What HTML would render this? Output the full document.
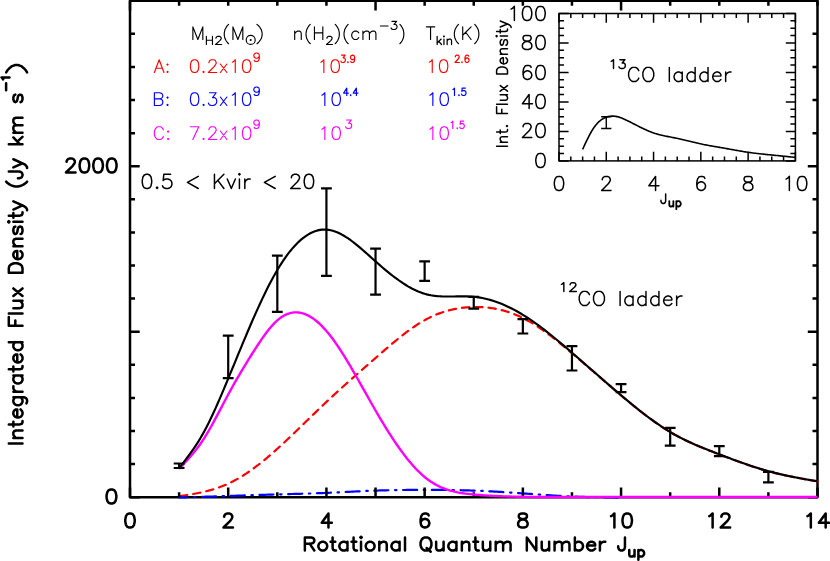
<!DOCTYPE html>
<html><head><meta charset="utf-8"><title>CO ladder</title>
<style>
html,body{margin:0;padding:0;background:#fff;}
body{width:830px;height:561px;overflow:hidden;font-family:"Liberation Sans",sans-serif;}
svg{display:block}
.t{fill:none;stroke-linecap:round;stroke-linejoin:round}
.ax{fill:none;stroke:#000;stroke-linecap:butt}
.hid{fill:transparent;stroke:none;font-family:"Liberation Sans",sans-serif}
</style></head><body>
<svg width="830" height="561" viewBox="0 0 830 561">
<rect class="ax" stroke-linejoin="round" x="130" y="0.75" width="687.5" height="496.45" stroke-width="2.5"/>
<g fill="none" stroke-linejoin="round">
<path d="M179.11 496.3 180.39 496.1 181.67 495.9 182.95 495.7 184.22 495.5 185.5 495.3 186.78 495.09 188.06 494.88 189.34 494.67 190.62 494.45 191.9 494.22 193.18 494 194.46 493.76 195.74 493.52 197.02 493.28 198.3 493.02 199.58 492.76 200.86 492.49 202.14 492.21 203.41 491.92 204.69 491.62 205.97 491.31 207.25 490.99 208.53 490.66 209.81 490.32 211.09 489.96 212.37 489.59 213.65 489.2 214.93 488.81 216.21 488.39 217.49 487.96 218.77 487.52 220.05 487.06 221.33 486.58 222.6 486.09 223.88 485.58 225.16 485.04 226.44 484.49 227.72 483.92 229 483.33 230.28 482.72 231.56 482.1 232.84 481.45 234.12 480.78 235.4 480.09 236.68 479.38 237.96 478.66 239.24 477.92 240.52 477.15 241.8 476.38 243.07 475.58 244.35 474.76 245.63 473.93 246.91 473.09 248.19 472.22 249.47 471.34 250.75 470.45 252.03 469.53 253.31 468.61 254.59 467.66 255.87 466.71 257.15 465.73 258.43 464.75 259.71 463.75 260.99 462.73 262.26 461.71 263.54 460.67 264.82 459.62 266.1 458.56 267.38 457.48 268.66 456.4 269.94 455.3 271.22 454.2 272.5 453.08 273.78 451.96 275.06 450.83 276.34 449.68 277.62 448.53 278.9 447.38 280.18 446.21 281.45 445.04 282.73 443.86 284.01 442.67 285.29 441.48 286.57 440.28 287.85 439.07 289.13 437.86 290.41 436.65 291.69 435.43 292.97 434.21 294.25 432.98 295.53 431.75 296.81 430.52 298.09 429.28 299.37 428.04 300.64 426.8 301.92 425.56 303.2 424.32 304.48 423.07 305.76 421.83 307.04 420.58 308.32 419.34 309.6 418.09 310.88 416.85 312.16 415.6 313.44 414.36 314.72 413.12 316 411.88 317.28 410.64 318.56 409.41 319.84 408.18 321.11 406.95 322.39 405.73 323.67 404.51 324.95 403.3 326.23 402.09 327.51 400.88 328.79 399.68 330.07 398.49 331.35 397.3 332.63 396.11 333.91 394.93 335.19 393.75 336.47 392.58 337.75 391.41 339.03 390.25 340.3 389.08 341.58 387.93 342.86 386.77 344.14 385.62 345.42 384.47 346.7 383.33 347.98 382.19 349.26 381.05 350.54 379.91 351.82 378.78 353.1 377.65 354.38 376.52 355.66 375.39 356.94 374.26 358.22 373.14 359.49 372.01 360.77 370.89 362.05 369.77 363.33 368.65 364.61 367.53 365.89 366.42 367.17 365.3 368.45 364.18 369.73 363.07 371.01 361.95 372.29 360.83 373.57 359.72 374.85 358.6 376.13 357.48 377.41 356.37 378.68 355.25 379.96 354.13 381.24 353.02 382.52 351.91 383.8 350.8 385.08 349.69 386.36 348.59 387.64 347.49 388.92 346.4 390.2 345.31 391.48 344.23 392.76 343.15 394.04 342.09 395.32 341.03 396.6 339.98 397.88 338.93 399.15 337.9 400.43 336.88 401.71 335.87 402.99 334.87 404.27 333.88 405.55 332.9 406.83 331.94 408.11 330.99 409.39 330.05 410.67 329.13 411.95 328.23 413.23 327.34 414.51 326.47 415.79 325.61 417.07 324.77 418.34 323.95 419.62 323.15 420.9 322.37 422.18 321.61 423.46 320.87 424.74 320.15 426.02 319.45 427.3 318.77 428.58 318.11 429.86 317.48 431.14 316.86 432.42 316.27 433.7 315.7 434.98 315.15 436.26 314.61 437.53 314.1 438.81 313.61 440.09 313.13 441.37 312.68 442.65 312.24 443.93 311.83 445.21 311.43 446.49 311.05 447.77 310.69 449.05 310.35 450.33 310.02 451.61 309.71 452.89 309.42 454.17 309.15 455.45 308.9 456.72 308.66 458 308.44 459.28 308.23 460.56 308.04 461.84 307.87 463.12 307.71 464.4 307.57 465.68 307.45 466.96 307.34 468.24 307.24 469.52 307.16 470.8 307.1 472.08 307.04 473.36 307.01 474.64 306.99 475.92 306.98 477.19 306.98 478.47 307.01 479.75 307.04 481.03 307.09 482.31 307.16 483.59 307.24 484.87 307.34 486.15 307.45 487.43 307.58 488.71 307.72 489.99 307.88 491.27 308.05 492.55 308.25 493.83 308.46 495.11 308.68 496.38 308.92 497.66 309.18 498.94 309.46 500.22 309.75 501.5 310.06 502.78 310.39 504.06 310.74 505.34 311.11 506.62 311.49 507.9 311.89 509.18 312.31 510.46 312.75 511.74 313.21 513.02 313.68 514.3 314.18 515.57 314.69 516.85 315.23 518.13 315.78 519.41 316.36 520.69 316.95 521.97 317.56 523.25 318.2 524.53 318.85 525.81 319.53 527.09 320.22 528.37 320.93 529.65 321.66 530.93 322.41 532.21 323.18 533.49 323.96 534.76 324.76 536.04 325.58 537.32 326.41 538.6 327.26 539.88 328.12 541.16 329 542.44 329.89 543.72 330.79 545 331.71 546.28 332.64 547.56 333.58 548.84 334.53 550.12 335.49 551.4 336.47 552.68 337.45 553.96 338.45 555.23 339.45 556.51 340.46 557.79 341.48 559.07 342.51 560.35 343.54 561.63 344.59 562.91 345.63 564.19 346.69 565.47 347.75 566.75 348.81 568.03 349.88 569.31 350.96 570.59 352.04 571.87 353.12 573.15 354.2 574.42 355.29 575.7 356.38 576.98 357.47 578.26 358.56 579.54 359.65 580.82 360.75 582.1 361.85 583.38 362.95 584.66 364.05 585.94 365.16 587.22 366.26 588.5 367.37 589.78 368.47 591.06 369.58 592.34 370.69 593.61 371.79 594.89 372.9 596.17 374.01 597.45 375.12 598.73 376.23 600.01 377.33 601.29 378.44 602.57 379.55 603.85 380.65 605.13 381.76 606.41 382.86 607.69 383.97 608.97 385.07 610.25 386.17 611.53 387.27 612.8 388.36 614.08 389.46 615.36 390.55 616.64 391.64 617.92 392.73 619.2 393.82 620.48 394.9 621.76 395.98 623.04 397.06 624.32 398.13 625.6 399.2 626.88 400.27 628.16 401.34 629.44 402.39 630.72 403.45 632 404.5 633.27 405.54 634.55 406.58 635.83 407.61 637.11 408.64 638.39 409.66 639.67 410.67 640.95 411.68 642.23 412.67 643.51 413.67 644.79 414.65 646.07 415.62 647.35 416.59 648.63 417.55 649.91 418.5 651.19 419.44 652.46 420.37 653.74 421.29 655.02 422.2 656.3 423.1 657.58 423.98 658.86 424.86 660.14 425.73 661.42 426.58 662.7 427.43 663.98 428.26 665.26 429.07 666.54 429.88 667.82 430.67 669.1 431.45 670.38 432.22 671.65 432.97 672.93 433.71 674.21 434.43 675.49 435.14 676.77 435.84 678.05 436.53 679.33 437.21 680.61 437.87 681.89 438.53 683.17 439.17 684.45 439.8 685.73 440.42 687.01 441.04 688.29 441.64 689.57 442.24 690.84 442.82 692.12 443.4 693.4 443.97 694.68 444.54 695.96 445.09 697.24 445.64 698.52 446.18 699.8 446.72 701.08 447.25 702.36 447.78 703.64 448.3 704.92 448.81 706.2 449.33 707.48 449.83 708.76 450.34 710.04 450.84 711.31 451.34 712.59 451.83 713.87 452.33 715.15 452.82 716.43 453.31 717.71 453.8 718.99 454.29 720.27 454.78 721.55 455.26 722.83 455.75 724.11 456.24 725.39 456.72 726.67 457.21 727.95 457.69 729.23 458.17 730.5 458.65 731.78 459.13 733.06 459.6 734.34 460.08 735.62 460.55 736.9 461.02 738.18 461.48 739.46 461.95 740.74 462.41 742.02 462.86 743.3 463.32 744.58 463.77 745.86 464.22 747.14 464.66 748.42 465.1 749.69 465.53 750.97 465.96 752.25 466.39 753.53 466.81 754.81 467.23 756.09 467.64 757.37 468.04 758.65 468.44 759.93 468.84 761.21 469.23 762.49 469.61 763.77 469.99 765.05 470.36 766.33 470.72 767.61 471.08 768.88 471.43 770.16 471.78 771.44 472.12 772.72 472.45 774 472.77 775.28 473.09 776.56 473.41 777.84 473.72 779.12 474.02 780.4 474.31 781.68 474.61 782.96 474.89 784.24 475.17 785.52 475.45 786.8 475.72 788.08 475.99 789.35 476.26 790.63 476.52 791.91 476.78 793.19 477.03 794.47 477.28 795.75 477.53 797.03 477.77 798.31 478.01 799.59 478.25 800.87 478.48 802.15 478.72 803.43 478.95 804.71 479.18 805.99 479.4 807.27 479.63 808.54 479.85 809.82 480.08 811.1 480.3 812.38 480.52 813.66 480.74 814.94 480.96 816.22 481.18 817.5 481.4" stroke="#f00" stroke-width="2.2" stroke-linecap="round" stroke-dasharray="7.3 6" stroke-dashoffset="-1"/>
<path d="M179.11 497.5 180.59 497.46 182.06 497.41 183.54 497.37 185.02 497.33 186.5 497.28 187.98 497.24 189.45 497.2 190.93 497.15 192.41 497.11 193.89 497.06 195.37 497.02 196.84 496.98 198.32 496.93 199.8 496.89 201.28 496.84 202.76 496.8 204.24 496.75 205.71 496.71 207.19 496.66 208.67 496.62 210.15 496.57 211.63 496.53 213.1 496.48 214.58 496.44 216.06 496.39 217.54 496.34 219.02 496.3 220.5 496.25 221.97 496.2 223.45 496.15 224.93 496.11 226.41 496.06 227.89 496.01 229.36 495.96 230.84 495.91 232.32 495.86 233.8 495.81 235.28 495.77 236.75 495.72 238.23 495.67 239.71 495.62 241.19 495.57 242.67 495.52 244.15 495.47 245.62 495.42 247.1 495.37 248.58 495.32 250.06 495.27 251.54 495.22 253.01 495.17 254.49 495.12 255.97 495.07 257.45 495.02 258.93 494.97 260.4 494.92 261.88 494.87 263.36 494.83 264.84 494.78 266.32 494.73 267.8 494.69 269.27 494.64 270.75 494.59 272.23 494.55 273.71 494.51 275.19 494.46 276.66 494.42 278.14 494.38 279.62 494.33 281.1 494.29 282.58 494.25 284.06 494.21 285.53 494.17 287.01 494.13 288.49 494.09 289.97 494.06 291.45 494.02 292.92 493.98 294.4 493.94 295.88 493.9 297.36 493.86 298.84 493.82 300.31 493.78 301.79 493.73 303.27 493.69 304.75 493.65 306.23 493.61 307.71 493.56 309.18 493.52 310.66 493.47 312.14 493.42 313.62 493.38 315.1 493.33 316.57 493.28 318.05 493.22 319.53 493.17 321.01 493.12 322.49 493.06 323.97 493 325.44 492.94 326.92 492.88 328.4 492.82 329.88 492.75 331.36 492.68 332.83 492.61 334.31 492.54 335.79 492.47 337.27 492.4 338.75 492.33 340.22 492.26 341.7 492.18 343.18 492.11 344.66 492.03 346.14 491.96 347.62 491.88 349.09 491.8 350.57 491.73 352.05 491.65 353.53 491.58 355.01 491.5 356.48 491.43 357.96 491.36 359.44 491.29 360.92 491.22 362.4 491.15 363.87 491.08 365.35 491.01 366.83 490.95 368.31 490.88 369.79 490.82 371.27 490.76 372.74 490.7 374.22 490.65 375.7 490.59 377.18 490.54 378.66 490.5 380.13 490.45 381.61 490.41 383.09 490.36 384.57 490.33 386.05 490.29 387.53 490.25 389 490.22 390.48 490.19 391.96 490.16 393.44 490.13 394.92 490.11 396.39 490.09 397.87 490.06 399.35 490.04 400.83 490.03 402.31 490.01 403.78 489.99 405.26 489.98 406.74 489.97 408.22 489.95 409.7 489.94 411.18 489.94 412.65 489.93 414.13 489.92 415.61 489.92 417.09 489.91 418.57 489.91 420.04 489.9 421.52 489.9 423 489.9 424.48 489.9 425.96 489.9 427.43 489.9 428.91 489.9 430.39 489.9 431.87 489.91 433.35 489.91 434.83 489.92 436.3 489.92 437.78 489.93 439.26 489.94 440.74 489.95 442.22 489.96 443.69 489.97 445.17 489.98 446.65 490 448.13 490.02 449.61 490.03 451.09 490.05 452.56 490.07 454.04 490.1 455.52 490.12 457 490.15 458.48 490.18 459.95 490.21 461.43 490.24 462.91 490.28 464.39 490.31 465.87 490.35 467.34 490.39 468.82 490.44 470.3 490.48 471.78 490.53 473.26 490.58 474.74 490.64 476.21 490.69 477.69 490.75 479.17 490.81 480.65 490.87 482.13 490.94 483.6 491.01 485.08 491.08 486.56 491.15 488.04 491.22 489.52 491.3 490.99 491.38 492.47 491.46 493.95 491.54 495.43 491.62 496.91 491.71 498.39 491.79 499.86 491.88 501.34 491.97 502.82 492.06 504.3 492.16 505.78 492.25 507.25 492.34 508.73 492.44 510.21 492.54 511.69 492.63 513.17 492.73 514.65 492.83 516.12 492.93 517.6 493.03 519.08 493.14 520.56 493.24 522.04 493.34 523.51 493.45 524.99 493.55 526.47 493.65 527.95 493.76 529.43 493.86 530.9 493.97 532.38 494.07 533.86 494.18 535.34 494.28 536.82 494.39 538.3 494.49 539.77 494.59 541.25 494.7 542.73 494.8 544.21 494.9 545.69 495 547.16 495.1 548.64 495.19 550.12 495.29 551.6 495.39 553.08 495.48 554.56 495.57 556.03 495.66 557.51 495.75 558.99 495.84 560.47 495.92 561.95 496 563.42 496.08 564.9 496.16 566.38 496.24 567.86 496.31 569.34 496.38 570.81 496.45 572.29 496.51 573.77 496.58 575.25 496.64 576.73 496.69 578.21 496.75 579.68 496.8 581.16 496.85 582.64 496.9 584.12 496.94 585.6 496.99 587.07 497.03 588.55 497.07 590.03 497.1 591.51 497.14 592.99 497.17 594.46 497.2 595.94 497.23 597.42 497.26 598.9 497.29 600.38 497.32 601.86 497.34 603.33 497.37 604.81 497.39 606.29 497.41 607.77 497.43 609.25 497.45 610.72 497.47 612.2 497.49 613.68 497.51 615.16 497.53 616.64 497.55 618.12 497.57 619.59 497.58 621.07 497.6" stroke="#00f" stroke-width="2.2" stroke-linecap="round" stroke-dasharray="14.1 6.6 1.45 6.6" stroke-dashoffset="5.9"/>
</g>
<path class="ax" d="M130 497.2v-9.7M130 0.75v9.7M179.11 497.2v-5M179.11 0.75v5M228.21 497.2v-9.7M228.21 0.75v5M277.32 497.2v-5M277.32 0.75v5M326.43 497.2v-9.7M326.43 0.75v5M375.54 497.2v-9.7M375.54 0.75v9.7M424.64 497.2v-9.7M424.64 0.75v5M473.75 497.2v-5M473.75 0.75v5M522.86 497.2v-9.7M522.86 0.75v5M571.96 497.2v-5M571.96 0.75v5M621.07 497.2v-9.7M621.07 0.75v9.7M670.18 497.2v-5M670.18 0.75v5M719.29 497.2v-9.7M719.29 0.75v5M768.39 497.2v-5M768.39 0.75v5M817.5 497.2v-9.7M817.5 0.75v5M130 497.2h9.7M817.5 497.2h-9.7M130 464.1h5M817.5 464.1h-5M130 431.01h5M817.5 431.01h-5M130 397.91h5M817.5 397.91h-5M130 364.81h5M817.5 364.81h-5M130 331.72h9.7M817.5 331.72h-9.7M130 298.62h5M817.5 298.62h-5M130 265.52h5M817.5 265.52h-5M130 232.43h5M817.5 232.43h-5M130 199.33h5M817.5 199.33h-5M130 166.23h9.7M817.5 166.23h-9.7M130 133.14h5M817.5 133.14h-5M130 100.04h5M817.5 100.04h-5M130 66.94h5M817.5 66.94h-5M130 33.85h5M817.5 33.85h-5M130 0.75h9.7M817.5 0.75h-9.7" stroke-width="2.5"/>
<g fill="none" stroke-linejoin="round">
<path d="M179.11 468.8 181.24 466.56 183.38 464.3 185.51 462.01 187.65 459.68 189.78 457.28 191.92 454.79 194.05 452.22 196.19 449.53 198.32 446.71 200.46 443.75 202.59 440.63 204.73 437.33 206.86 433.86 209 430.24 211.13 426.49 213.27 422.63 215.4 418.69 217.54 414.69 219.67 410.64 221.81 406.58 223.94 402.52 226.08 398.49 228.21 394.5 230.35 390.58 232.48 386.73 234.62 382.94 236.75 379.21 238.89 375.54 241.02 371.92 243.16 368.35 245.3 364.82 247.43 361.34 249.57 357.9 251.7 354.49 253.84 351.12 255.97 347.78 258.11 344.51 260.24 341.3 262.38 338.19 264.51 335.19 266.65 332.31 268.78 329.57 270.92 326.99 273.05 324.6 275.19 322.39 277.32 320.4 279.46 318.63 281.59 317.09 283.73 315.78 285.86 314.68 288 313.79 290.13 313.12 292.27 312.66 294.4 312.41 296.54 312.36 298.67 312.51 300.81 312.85 302.94 313.39 305.08 314.12 307.21 315.04 309.35 316.13 311.48 317.41 313.62 318.86 315.75 320.48 317.89 322.26 320.02 324.21 322.16 326.32 324.29 328.59 326.43 331 328.56 333.56 330.7 336.26 332.83 339.09 334.97 342.05 337.1 345.11 339.24 348.29 341.37 351.56 343.51 354.92 345.64 358.37 347.78 361.88 349.91 365.46 352.05 369.1 354.18 372.79 356.32 376.51 358.45 380.27 360.59 384.05 362.73 387.85 364.86 391.66 367 395.46 369.13 399.26 371.27 403.03 373.4 406.78 375.54 410.5 377.67 414.18 379.81 417.8 381.94 421.38 384.08 424.91 386.21 428.38 388.35 431.79 390.48 435.14 392.62 438.42 394.75 441.62 396.89 444.75 399.02 447.81 401.16 450.78 403.29 453.66 405.43 456.46 407.56 459.16 409.7 461.77 411.83 464.27 413.97 466.68 416.1 468.97 418.24 471.15 420.37 473.22 422.51 475.17 424.64 477 426.78 478.7 428.91 480.29 431.05 481.75 433.18 483.11 435.32 484.36 437.45 485.51 439.59 486.57 441.72 487.53 443.86 488.41 445.99 489.21 448.13 489.93 450.26 490.58 452.4 491.17 454.53 491.69 456.67 492.16 458.8 492.58 460.94 492.95 463.07 493.28 465.21 493.58 467.34 493.84 469.48 494.08 471.61 494.3 473.75 494.5 475.89 494.69 478.02 494.87 480.16 495.04 482.29 495.2 484.43 495.35 486.56 495.49 488.7 495.62 490.83 495.75 492.97 495.86 495.1 495.97 497.24 496.07 499.37 496.16 501.51 496.25 503.64 496.33 505.78 496.4 507.91 496.47 510.05 496.53 512.18 496.59 514.32 496.64 516.45 496.68 518.59 496.73 520.72 496.77 522.86 496.8 524.99 496.83 527.13 496.86 529.26 496.88 531.4 496.91 533.53 496.93 535.67 496.94 537.8 496.96 539.94 496.97 542.07 496.98 544.21 496.99 546.34 497 548.48 497 550.61 497 552.75 497 554.88 497 557.02 497 559.15 497 561.29 497 563.42 497 565.56 497 567.69 497 569.83 497 571.96 497 574.1 497 576.23 497 578.37 497 580.5 496.99 582.64 496.99 584.77 496.99 586.91 496.99 589.05 496.99 591.18 496.99 593.32 496.99 595.45 496.99 597.59 496.99 599.72 496.99 601.86 496.99 603.99 496.99 606.13 497 608.26 497 610.4 497 612.53 497 614.67 497 616.8 497 618.94 497 621.07 497 623.21 497 625.34 497 627.48 497 629.61 497 631.75 497 633.88 497 636.02 497 638.15 497 640.29 497 642.42 497 644.56 497 646.69 497 648.83 497 650.96 497 653.1 497 655.23 497 657.37 497 659.5 497 661.64 497 663.77 497 665.91 497 668.04 497 670.18 497 672.31 497 674.45 497 676.58 497 678.72 497 680.85 497 682.99 497 685.12 497 687.26 497 689.39 497 691.53 497 693.66 497 695.8 497 697.93 497 700.07 497 702.2 497 704.34 497 706.48 497 708.61 497 710.75 497 712.88 497 715.02 497 717.15 497 719.29 497 721.42 497 723.56 497 725.69 497 727.83 497 729.96 497 732.1 497 734.23 497 736.37 497 738.5 497 740.64 497 742.77 497 744.91 497 747.04 497 749.18 497 751.31 497 753.45 497 755.58 497 757.72 497 759.85 497 761.99 497 764.12 497 766.26 497 768.39 497 770.53 497 772.66 497 774.8 497 776.93 497 779.07 497 781.2 497 783.34 497 785.47 497 787.61 497 789.74 497 791.88 497 794.01 497 796.15 497 798.28 497 800.42 497 802.55 497 804.69 497 806.82 497 808.96 497 811.09 497 813.23 497 815.36 497 817.5 497" stroke="#f0f" stroke-width="2.4"/>
<path d="M179.11 468 181.24 465.3 183.38 462.58 185.51 459.83 187.65 457.02 189.78 454.15 191.92 451.18 194.05 448.11 196.19 444.91 198.32 441.58 200.46 438.08 202.59 434.41 204.73 430.54 206.86 426.48 209 422.24 211.13 417.83 213.27 413.28 215.4 408.6 217.54 403.8 219.67 398.89 221.81 393.91 223.94 388.85 226.08 383.74 228.21 378.6 230.35 373.43 232.48 368.25 234.62 363.07 236.75 357.88 238.89 352.71 241.02 347.55 243.16 342.42 245.3 337.32 247.43 332.26 249.57 327.25 251.7 322.29 253.84 317.4 255.97 312.58 258.11 307.84 260.24 303.18 262.38 298.63 264.51 294.17 266.65 289.82 268.78 285.59 270.92 281.49 273.05 277.51 275.19 273.68 277.32 270 279.46 266.47 281.59 263.1 283.73 259.89 285.86 256.83 288 253.94 290.13 251.2 292.27 248.62 294.4 246.2 296.54 243.95 298.67 241.85 300.81 239.92 302.94 238.15 305.08 236.54 307.21 235.1 309.35 233.82 311.48 232.71 313.62 231.76 315.75 230.98 317.89 230.37 320.02 229.92 322.16 229.65 324.29 229.54 326.43 229.6 328.56 229.83 330.7 230.22 332.83 230.77 334.97 231.46 337.1 232.29 339.24 233.24 341.37 234.32 343.51 235.52 345.64 236.81 347.78 238.21 349.91 239.69 352.05 241.25 354.18 242.88 356.32 244.58 358.45 246.34 360.59 248.14 362.73 249.98 364.86 251.85 367 253.75 369.13 255.66 371.27 257.58 373.4 259.49 375.54 261.4 377.67 263.29 379.81 265.16 381.94 267 384.08 268.82 386.21 270.61 388.35 272.36 390.48 274.08 392.62 275.75 394.75 277.39 396.89 278.97 399.02 280.5 401.16 281.98 403.29 283.41 405.43 284.77 407.56 286.07 409.7 287.31 411.83 288.47 413.97 289.56 416.1 290.57 418.24 291.51 420.37 292.36 422.51 293.12 424.64 293.8 426.78 294.38 428.91 294.88 431.05 295.3 433.18 295.64 435.32 295.92 437.45 296.14 439.59 296.3 441.72 296.42 443.86 296.49 445.99 296.53 448.13 296.54 450.26 296.53 452.4 296.5 454.53 296.47 456.67 296.43 458.8 296.39 460.94 296.37 463.07 296.36 465.21 296.38 467.34 296.42 469.48 296.5 471.61 296.63 473.75 296.8 475.89 297.03 478.02 297.31 480.16 297.65 482.29 298.03 484.43 298.48 486.56 298.97 488.7 299.52 490.83 300.12 492.97 300.76 495.1 301.46 497.24 302.21 499.37 303.01 501.51 303.85 503.64 304.74 505.78 305.68 507.91 306.67 510.05 307.7 512.18 308.77 514.32 309.89 516.45 311.05 518.59 312.26 520.72 313.51 522.86 314.8 524.99 316.13 527.13 317.5 529.26 318.91 531.4 320.36 533.53 321.84 535.67 323.36 537.8 324.9 539.94 326.48 542.07 328.09 544.21 329.72 546.34 331.38 548.48 333.06 550.61 334.77 552.75 336.49 554.88 338.24 557.02 340 559.15 341.78 561.29 343.57 563.42 345.38 565.56 347.19 567.69 349.02 569.83 350.86 571.96 352.7 574.1 354.55 576.23 356.4 578.37 358.26 580.5 360.12 582.64 361.98 584.77 363.84 586.91 365.71 589.05 367.57 591.18 369.44 593.32 371.31 595.45 373.18 597.59 375.04 599.72 376.9 601.86 378.76 603.99 380.62 606.13 382.48 608.26 384.33 610.4 386.17 612.53 388.01 614.67 389.84 616.8 391.67 618.94 393.49 621.07 395.3 623.21 397.1 625.34 398.9 627.48 400.68 629.61 402.45 631.75 404.21 633.88 405.95 636.02 407.67 638.15 409.38 640.29 411.07 642.42 412.74 644.56 414.38 646.69 416.01 648.83 417.61 650.96 419.18 653.1 420.73 655.23 422.25 657.37 423.74 659.5 425.2 661.64 426.63 663.77 428.03 665.91 429.39 668.04 430.71 670.18 432 672.31 433.25 674.45 434.46 676.58 435.64 678.72 436.78 680.85 437.89 682.99 438.98 685.12 440.03 687.26 441.05 689.39 442.05 691.53 443.03 693.66 443.98 695.8 444.92 697.93 445.83 700.07 446.73 702.2 447.61 704.34 448.48 706.48 449.34 708.61 450.18 710.75 451.02 712.88 451.84 715.02 452.67 717.15 453.48 719.29 454.3 721.42 455.11 723.56 455.93 725.69 456.74 727.83 457.54 729.96 458.35 732.1 459.14 734.23 459.94 736.37 460.72 738.5 461.5 740.64 462.27 742.77 463.03 744.91 463.79 747.04 464.53 749.18 465.26 751.31 465.98 753.45 466.68 755.58 467.37 757.72 468.05 759.85 468.72 761.99 469.36 764.12 469.99 766.26 470.61 768.39 471.2 770.53 471.78 772.66 472.33 774.8 472.87 776.93 473.4 779.07 473.91 781.2 474.4 783.34 474.88 785.47 475.34 787.61 475.8 789.74 476.24 791.88 476.67 794.01 477.09 796.15 477.5 798.28 477.9 800.42 478.3 802.55 478.69 804.69 479.07 806.82 479.45 808.96 479.83 811.09 480.2 813.23 480.57 815.36 480.93 817.5 481.3" stroke="#000" stroke-width="2.15"/>
</g>
<path class="ax" d="M179.11 463.5V468M173.71 463.5h10.8M173.71 468h10.8M228.21 335.7V378.2M222.81 335.7h10.8M222.81 378.2h10.8M277.32 255.7V311.8M271.92 255.7h10.8M271.92 311.8h10.8M326.43 188.3V275.8M321.03 188.3h10.8M321.03 275.8h10.8M375.54 248.6V294.7M370.14 248.6h10.8M370.14 294.7h10.8M424.64 261.4V280.9M419.24 261.4h10.8M419.24 280.9h10.8M473.75 296.8V308.7M468.35 296.8h10.8M468.35 308.7h10.8M522.86 319.2V333.5M517.46 319.2h10.8M517.46 333.5h10.8M571.96 346.1V370.5M566.56 346.1h10.8M566.56 370.5h10.8M621.07 384.2V392.2M615.67 384.2h10.8M615.67 392.2h10.8M670.18 427.8V445.7M664.78 427.8h10.8M664.78 445.7h10.8M719.29 446.1V456.1M713.89 446.1h10.8M713.89 456.1h10.8M768.39 471.9V482.3M762.99 471.9h10.8M762.99 482.3h10.8" stroke-width="2.2"/>
<rect class="ax" x="559" y="13.5" width="236.4" height="147.4" stroke-width="1.5"/>
<path class="ax" d="M559 160.9v-9.2M559 13.5v9.2M570.82 160.9v-4.5M570.82 13.5v4.5M582.64 160.9v-4.5M582.64 13.5v4.5M594.46 160.9v-4.5M594.46 13.5v4.5M606.28 160.9v-9.2M606.28 13.5v9.2M618.1 160.9v-4.5M618.1 13.5v4.5M629.92 160.9v-4.5M629.92 13.5v4.5M641.74 160.9v-4.5M641.74 13.5v4.5M653.56 160.9v-9.2M653.56 13.5v9.2M665.38 160.9v-4.5M665.38 13.5v4.5M677.2 160.9v-4.5M677.2 13.5v4.5M689.02 160.9v-4.5M689.02 13.5v4.5M700.84 160.9v-9.2M700.84 13.5v9.2M712.66 160.9v-4.5M712.66 13.5v4.5M724.48 160.9v-4.5M724.48 13.5v4.5M736.3 160.9v-4.5M736.3 13.5v4.5M748.12 160.9v-9.2M748.12 13.5v9.2M759.94 160.9v-4.5M759.94 13.5v4.5M771.76 160.9v-4.5M771.76 13.5v4.5M783.58 160.9v-4.5M783.58 13.5v4.5M795.4 160.9v-9.2M795.4 13.5v9.2M559 160.9h9.6M795.4 160.9h-9.6M559 153.53h5M795.4 153.53h-5M559 146.16h5M795.4 146.16h-5M559 138.79h5M795.4 138.79h-5M559 131.42h9.6M795.4 131.42h-9.6M559 124.05h5M795.4 124.05h-5M559 116.68h5M795.4 116.68h-5M559 109.31h5M795.4 109.31h-5M559 101.94h9.6M795.4 101.94h-9.6M559 94.57h5M795.4 94.57h-5M559 87.2h5M795.4 87.2h-5M559 79.83h5M795.4 79.83h-5M559 72.46h9.6M795.4 72.46h-9.6M559 65.09h5M795.4 65.09h-5M559 57.72h5M795.4 57.72h-5M559 50.35h5M795.4 50.35h-5M559 42.98h9.6M795.4 42.98h-9.6M559 35.61h5M795.4 35.61h-5M559 28.24h5M795.4 28.24h-5M559 20.87h5M795.4 20.87h-5M559 13.5h9.6M795.4 13.5h-9.6" stroke-width="1.5"/>
<path fill="none" stroke="#000" stroke-width="1.6" d="M582.64 149.3 583.71 146.99 584.78 144.7 585.85 142.43 586.92 140.21 587.99 138.04 589.05 135.93 590.12 133.91 591.19 131.99 592.26 130.17 593.33 128.48 594.4 126.92 595.47 125.49 596.54 124.19 597.61 123.01 598.68 121.95 599.75 121 600.82 120.15 601.88 119.4 602.95 118.74 604.02 118.16 605.09 117.67 606.16 117.24 607.23 116.89 608.3 116.6 609.37 116.37 610.44 116.22 611.51 116.12 612.58 116.1 613.65 116.13 614.71 116.23 615.78 116.38 616.85 116.59 617.92 116.84 618.99 117.14 620.06 117.48 621.13 117.86 622.2 118.27 623.27 118.71 624.34 119.18 625.41 119.67 626.47 120.18 627.54 120.7 628.61 121.24 629.68 121.78 630.75 122.33 631.82 122.87 632.89 123.42 633.96 123.98 635.03 124.52 636.1 125.07 637.17 125.62 638.24 126.16 639.3 126.7 640.37 127.23 641.44 127.75 642.51 128.27 643.58 128.77 644.65 129.27 645.72 129.76 646.79 130.23 647.86 130.69 648.93 131.14 650 131.58 651.07 131.99 652.13 132.39 653.2 132.78 654.27 133.14 655.34 133.49 656.41 133.81 657.48 134.13 658.55 134.42 659.62 134.71 660.69 134.98 661.76 135.24 662.83 135.49 663.9 135.73 664.96 135.96 666.03 136.18 667.1 136.4 668.17 136.62 669.24 136.83 670.31 137.03 671.38 137.24 672.45 137.45 673.52 137.66 674.59 137.87 675.66 138.08 676.72 138.3 677.79 138.53 678.86 138.76 679.93 138.99 681 139.23 682.07 139.48 683.14 139.73 684.21 139.98 685.28 140.23 686.35 140.49 687.42 140.75 688.49 141.01 689.55 141.27 690.62 141.52 691.69 141.78 692.76 142.04 693.83 142.3 694.9 142.55 695.97 142.8 697.04 143.05 698.11 143.3 699.18 143.54 700.25 143.77 701.32 144 702.38 144.23 703.45 144.44 704.52 144.66 705.59 144.87 706.66 145.07 707.73 145.27 708.8 145.47 709.87 145.67 710.94 145.86 712.01 146.05 713.08 146.24 714.14 146.42 715.21 146.61 716.28 146.79 717.35 146.97 718.42 147.15 719.49 147.34 720.56 147.52 721.63 147.7 722.7 147.89 723.77 148.07 724.84 148.26 725.91 148.45 726.97 148.64 728.04 148.84 729.11 149.03 730.18 149.23 731.25 149.42 732.32 149.62 733.39 149.81 734.46 150 735.53 150.2 736.6 150.39 737.67 150.58 738.74 150.77 739.8 150.96 740.87 151.14 741.94 151.32 743.01 151.5 744.08 151.67 745.15 151.85 746.22 152.01 747.29 152.18 748.36 152.33 749.43 152.49 750.5 152.64 751.57 152.78 752.63 152.92 753.7 153.06 754.77 153.19 755.84 153.32 756.91 153.45 757.98 153.57 759.05 153.69 760.12 153.81 761.19 153.93 762.26 154.04 763.33 154.15 764.39 154.26 765.46 154.37 766.53 154.48 767.6 154.59 768.67 154.69 769.74 154.8 770.81 154.91 771.88 155.01 772.95 155.12 774.02 155.23 775.09 155.33 776.16 155.44 777.22 155.55 778.29 155.65 779.36 155.76 780.43 155.87 781.5 155.98 782.57 156.09 783.64 156.2 784.71 156.31 785.78 156.41 786.85 156.52 787.92 156.63 788.99 156.74 790.05 156.85 791.12 156.96 792.19 157.07 793.26 157.18 794.33 157.29 795.4 157.4"/>
<path class="ax" stroke-width="1.4" d="M606.28 116.8V128.5M601.18 116.8h10.2M601.18 128.5h10.2"/>
<g class="t">
<path d="M125.28 519.5 125.96 516.17 127.3 514.17 129.33 513.5 130.67 513.5 132.7 514.17 134.04 516.17 134.72 519.5 134.72 521.5 134.04 524.83 132.7 526.83 130.67 527.5 129.33 527.5 127.3 526.83 125.96 524.83 125.28 521.5 125.28 519.5" stroke="#000" stroke-width="2.5"/>
<path d="M224.17 516.83 224.17 516.17 224.84 514.83 225.52 514.17 226.87 513.5 229.56 513.5 230.91 514.17 231.58 514.83 232.26 516.17 232.26 517.5 231.58 518.83 230.24 520.83 223.5 527.5 232.93 527.5" stroke="#000" stroke-width="2.5"/>
<path d="M328.45 527.5 328.45 513.5 321.71 522.83 331.82 522.83" stroke="#000" stroke-width="2.5"/>
<path d="M420.6 522.83 420.6 519.5 421.27 516.17 422.62 514.17 424.64 513.5 425.99 513.5 428.01 514.17 428.69 515.5M420.6 522.83 421.27 525.5 422.62 526.83 424.64 527.5 425.32 527.5 427.34 526.83 428.69 525.5 429.36 523.5 429.36 522.83 428.69 520.83 427.34 519.5 425.32 518.83 424.64 518.83 422.62 519.5 421.27 520.83 420.6 522.83" stroke="#000" stroke-width="2.5"/>
<path d="M518.14 522.83 518.14 524.83 518.81 526.17 519.49 526.83 521.51 527.5 524.21 527.5 526.23 526.83 526.9 526.17 527.58 524.83 527.58 522.83 526.9 521.5 525.55 520.17 523.53 519.5 520.84 518.83 519.49 518.17 518.81 516.83 518.81 515.5 519.49 514.17 521.51 513.5 524.21 513.5 526.23 514.17 526.9 515.5 526.9 516.83 526.23 518.17 524.88 518.83 522.18 519.5 520.16 520.17 518.81 521.5 518.14 522.83" stroke="#000" stroke-width="2.5"/>
<path d="M611.04 516.17 612.38 515.5 614.41 513.5 614.41 527.5M622.49 519.5 623.17 516.17 624.52 514.17 626.54 513.5 627.89 513.5 629.91 514.17 631.26 516.17 631.93 519.5 631.93 521.5 631.26 524.83 629.91 526.83 627.89 527.5 626.54 527.5 624.52 526.83 623.17 524.83 622.49 521.5 622.49 519.5" stroke="#000" stroke-width="2.5"/>
<path d="M709.25 516.17 710.6 515.5 712.62 513.5 712.62 527.5M721.38 516.83 721.38 516.17 722.06 514.83 722.73 514.17 724.08 513.5 726.77 513.5 728.12 514.17 728.8 514.83 729.47 516.17 729.47 517.5 728.8 518.83 727.45 520.83 720.71 527.5 730.14 527.5" stroke="#000" stroke-width="2.5"/>
<path d="M807.46 516.17 808.81 515.5 810.83 513.5 810.83 527.5M825.66 527.5 825.66 513.5 818.92 522.83 829.03 522.83" stroke="#000" stroke-width="2.5"/>
<path d="M66.63 161.83 66.63 161.17 67.32 159.83 68 159.17 69.37 158.5 72.1 158.5 73.47 159.17 74.16 159.83 74.84 161.17 74.84 162.5 74.16 163.83 72.79 165.83 65.95 172.5 75.52 172.5M79.63 164.5 80.31 161.17 81.68 159.17 83.73 158.5 85.1 158.5 87.15 159.17 88.51 161.17 89.2 164.5 89.2 166.5 88.51 169.83 87.15 171.83 85.1 172.5 83.73 172.5 81.68 171.83 80.31 169.83 79.63 166.5 79.63 164.5M93.3 164.5 93.99 161.17 95.35 159.17 97.4 158.5 98.77 158.5 100.82 159.17 102.19 161.17 102.87 164.5 102.87 166.5 102.19 169.83 100.82 171.83 98.77 172.5 97.4 172.5 95.35 171.83 93.99 169.83 93.3 166.5 93.3 164.5M106.98 164.5 107.66 161.17 109.03 159.17 111.08 158.5 112.45 158.5 114.5 159.17 115.87 161.17 116.55 164.5 116.55 166.5 115.87 169.83 114.5 171.83 112.45 172.5 111.08 172.5 109.03 171.83 107.66 169.83 106.98 166.5 106.98 164.5" stroke="#000" stroke-width="2.5"/>
<path d="M106.55 495.5 107.25 492.17 108.65 490.17 110.75 489.5 112.15 489.5 114.25 490.17 115.65 492.17 116.35 495.5 116.35 497.5 115.65 500.83 114.25 502.83 112.15 503.5 110.75 503.5 108.65 502.83 107.25 500.83 106.55 497.5 106.55 495.5" stroke="#000" stroke-width="2.5"/>
<path d="M304.85 543.64 310.94 543.64 312.97 543.01 313.65 542.39 314.32 541.14 314.32 539.9 313.65 538.65 312.97 538.02 310.94 537.4 304.85 537.4 304.85 550.5M309.59 543.64 314.32 550.5M318.38 545.51 319.06 543.64 320.42 542.39 321.77 541.77 323.8 541.77 325.15 542.39 326.51 543.64 327.18 545.51 327.18 546.76 326.51 548.63 325.15 549.88 323.8 550.5 321.77 550.5 320.42 549.88 319.06 548.63 318.38 546.76 318.38 545.51M330.57 541.77 335.3 541.77M332.6 537.4 332.6 548 333.27 549.88 334.63 550.5 335.98 550.5M347.48 541.77 347.48 550.5M347.48 543.64 346.13 542.39 344.78 541.77 342.75 541.77 341.39 542.39 340.04 543.64 339.36 545.51 339.36 546.76 340.04 548.63 341.39 549.88 342.75 550.5 344.78 550.5 346.13 549.88 347.48 548.63M351.55 541.77 356.28 541.77M353.58 537.4 353.58 548 354.25 549.88 355.61 550.5 356.96 550.5M361.02 541.77 361.02 550.5M360.34 537.4 361.02 538.02 361.7 537.4 361.02 536.78 360.34 537.4M365.76 545.51 366.43 543.64 367.79 542.39 369.14 541.77 371.17 541.77 372.52 542.39 373.88 543.64 374.55 545.51 374.55 546.76 373.88 548.63 372.52 549.88 371.17 550.5 369.14 550.5 367.79 549.88 366.43 548.63 365.76 546.76 365.76 545.51M379.29 541.77 379.29 550.5M379.29 544.26 381.32 542.39 382.68 541.77 384.71 541.77 386.06 542.39 386.74 544.26 386.74 550.5M399.59 541.77 399.59 550.5M399.59 543.64 398.24 542.39 396.89 541.77 394.86 541.77 393.5 542.39 392.15 543.64 391.47 545.51 391.47 546.76 392.15 548.63 393.5 549.88 394.86 550.5 396.89 550.5 398.24 549.88 399.59 548.63M405.01 537.4 405.01 550.5M426.66 548 430.72 551.75M420.57 542.39 420.57 545.51 421.25 547.38 421.93 548.63 423.28 549.88 424.63 550.5 427.34 550.5 428.69 549.88 430.05 548.63 430.72 547.38 431.4 545.51 431.4 542.39 430.72 540.52 430.05 539.27 428.69 538.02 427.34 537.4 424.63 537.4 423.28 538.02 421.93 539.27 421.25 540.52 420.57 542.39M436.14 541.77 436.14 548 436.82 549.88 438.17 550.5 440.2 550.5 441.55 549.88 443.58 548M443.58 541.77 443.58 550.5M456.44 541.77 456.44 550.5M456.44 543.64 455.09 542.39 453.73 541.77 451.7 541.77 450.35 542.39 449 543.64 448.32 545.51 448.32 546.76 449 548.63 450.35 549.88 451.7 550.5 453.73 550.5 455.09 549.88 456.44 548.63M461.85 541.77 461.85 550.5M461.85 544.26 463.88 542.39 465.24 541.77 467.27 541.77 468.62 542.39 469.3 544.26 469.3 550.5M473.36 541.77 478.1 541.77M475.39 537.4 475.39 548 476.07 549.88 477.42 550.5 478.77 550.5M482.83 541.77 482.83 548 483.51 549.88 484.86 550.5 486.89 550.5 488.25 549.88 490.28 548M490.28 541.77 490.28 550.5M495.69 541.77 495.69 550.5M495.69 544.26 497.72 542.39 499.08 541.77 501.11 541.77 502.46 542.39 503.14 544.26 503.14 550.5M503.14 544.26 505.17 542.39 506.52 541.77 508.55 541.77 509.9 542.39 510.58 544.26 510.58 550.5M526.82 550.5 526.82 537.4 536.3 550.5 536.3 537.4M541.71 541.77 541.71 548 542.39 549.88 543.74 550.5 545.77 550.5 547.12 549.88 549.15 548M549.15 541.77 549.15 550.5M554.57 541.77 554.57 550.5M554.57 544.26 556.6 542.39 557.95 541.77 559.98 541.77 561.34 542.39 562.01 544.26 562.01 550.5M562.01 544.26 564.04 542.39 565.4 541.77 567.43 541.77 568.78 542.39 569.46 544.26 569.46 550.5M574.87 537.4 574.87 550.5M574.87 543.64 576.22 542.39 577.58 541.77 579.61 541.77 580.96 542.39 582.32 543.64 582.99 545.51 582.99 546.76 582.32 548.63 580.96 549.88 579.61 550.5 577.58 550.5 576.22 549.88 574.87 548.63M587.05 545.51 595.17 545.51 595.17 544.26 594.5 543.01 593.82 542.39 592.47 541.77 590.44 541.77 589.08 542.39 587.73 543.64 587.05 545.51 587.05 546.76 587.73 548.63 589.08 549.88 590.44 550.5 592.47 550.5 593.82 549.88 595.17 548.63M599.91 541.77 599.91 550.5M599.91 545.51 600.59 543.64 601.94 542.39 603.29 541.77 605.32 541.77M618.18 546.13 618.18 547.38 618.86 549.25 619.54 549.88 620.89 550.5 622.24 550.5 623.6 549.88 624.27 549.25 624.95 547.38 624.95 537.4" stroke="#000" stroke-width="2.5"/>
<path d="M629.25 550.03 629.25 554.65 629.73 556.04 630.69 556.5 632.13 556.5 633.09 556.04 634.53 554.65M634.53 550.03 634.53 556.5M638.37 550.03 638.37 559.73M638.37 551.42 639.33 550.5 640.29 550.03 641.73 550.03 642.69 550.5 643.65 551.42 644.13 552.8 644.13 553.73 643.65 555.11 642.69 556.04 641.73 556.5 640.29 556.5 639.33 556.04 638.37 555.11" stroke="#000" stroke-width="2.5"/>
<path d="M8.8 443.45 22.5 443.45M13.37 438.01 22.5 438.01M15.98 438.01 14.02 435.97 13.37 434.61 13.37 432.57 14.02 431.21 15.98 430.53 22.5 430.53M13.37 426.45 13.37 421.69M8.8 424.41 19.89 424.41 21.85 423.73 22.5 422.37 22.5 421.01M17.28 417.61 17.28 409.45 15.98 409.45 14.67 410.13 14.02 410.81 13.37 412.17 13.37 414.21 14.02 415.57 15.32 416.93 17.28 417.61 18.59 417.61 20.54 416.93 21.85 415.57 22.5 414.21 22.5 412.17 21.85 410.81 20.54 409.45M26.41 403.33 27.07 401.97 27.07 399.93 26.41 398.58 25.76 397.9 23.8 397.22 13.37 397.22M15.32 397.22 14.02 398.58 13.37 399.93 13.37 401.97 14.02 403.33 15.32 404.69 17.28 405.37 18.59 405.37 20.54 404.69 21.85 403.33 22.5 401.97 22.5 399.93 21.85 398.58 20.54 397.22M13.37 391.78 22.5 391.78M17.28 391.78 15.32 391.1 14.02 389.74 13.37 388.38 13.37 386.34M13.37 375.46 22.5 375.46M15.32 375.46 14.02 376.82 13.37 378.18 13.37 380.22 14.02 381.58 15.32 382.94 17.28 383.62 18.59 383.62 20.54 382.94 21.85 381.58 22.5 380.22 22.5 378.18 21.85 376.82 20.54 375.46M13.37 371.38 13.37 366.62M8.8 369.34 19.89 369.34 21.85 368.66 22.5 367.3 22.5 365.94M17.28 362.54 17.28 354.38 15.98 354.38 14.67 355.06 14.02 355.74 13.37 357.1 13.37 359.14 14.02 360.5 15.32 361.86 17.28 362.54 18.59 362.54 20.54 361.86 21.85 360.5 22.5 359.14 22.5 357.1 21.85 355.74 20.54 354.38M8.8 342.14 22.5 342.14M15.32 342.14 14.02 343.5 13.37 344.86 13.37 346.9 14.02 348.26 15.32 349.62 17.28 350.3 18.59 350.3 20.54 349.62 21.85 348.26 22.5 346.9 22.5 344.86 21.85 343.5 20.54 342.14M15.32 325.82 15.32 320.38M22.5 325.82 8.8 325.82 8.8 316.98M8.8 313.58 22.5 313.58M13.37 308.15 19.89 308.15 21.85 307.47 22.5 306.11 22.5 304.07 21.85 302.71 19.89 300.67M13.37 300.67 22.5 300.67M13.37 295.91 22.5 288.43M22.5 295.91 13.37 288.43M8.8 272.79 22.5 272.79 22.5 268.03 21.85 265.99 20.54 264.63 19.24 263.95 17.28 263.27 14.02 263.27 12.06 263.95 10.76 264.63 9.45 265.99 8.8 268.03 8.8 272.79M17.28 259.19 17.28 251.03 15.98 251.03 14.67 251.71 14.02 252.39 13.37 253.75 13.37 255.79 14.02 257.15 15.32 258.51 17.28 259.19 18.59 259.19 20.54 258.51 21.85 257.15 22.5 255.79 22.5 253.75 21.85 252.39 20.54 251.03M13.37 246.27 22.5 246.27M15.98 246.27 14.02 244.23 13.37 242.87 13.37 240.83 14.02 239.47 15.98 238.79 22.5 238.79M20.54 234.03 21.85 233.35 22.5 231.31 22.5 229.27 21.85 227.23 20.54 226.55 19.89 226.55 18.59 227.23 17.93 228.59 17.28 231.99 16.63 233.35 15.32 234.03 14.02 233.35 13.37 231.31 13.37 229.27 14.02 227.23 15.32 226.55M13.37 221.8 22.5 221.8M8.8 222.48 9.45 221.8 8.8 221.12 8.15 221.8 8.8 222.48M13.37 217.72 13.37 212.96M8.8 215.68 19.89 215.68 21.85 215 22.5 213.64 22.5 212.28M27.07 210.24 27.07 209.56 26.41 208.2 25.11 206.84 22.5 205.48 13.37 201.4M13.37 209.56 22.5 205.48M6.19 181.68 7.5 183.04 9.45 184.4 12.06 185.76 15.32 186.44 17.93 186.44 21.2 185.76 23.8 184.4 25.76 183.04 27.07 181.68M17.93 178.28 19.24 178.28 21.2 177.6 21.85 176.92 22.5 175.56 22.5 174.2 21.85 172.84 21.2 172.16 19.24 171.48 8.8 171.48M27.07 168.08 27.07 167.4 26.41 166.04 25.11 164.68 22.5 163.32 13.37 159.24M13.37 167.4 22.5 163.32M8.8 144.28 22.5 144.28M19.89 144.28 13.37 137.49M17.28 141.56 22.5 136.81M13.37 132.73 22.5 132.73M15.98 132.73 14.02 130.69 13.37 129.33 13.37 127.29 14.02 125.93 15.98 125.25 22.5 125.25M15.98 125.25 14.02 123.21 13.37 121.85 13.37 119.81 14.02 118.45 15.98 117.77 22.5 117.77M20.54 102.13 21.85 101.45 22.5 99.41 22.5 97.37 21.85 95.33 20.54 94.65 19.89 94.65 18.59 95.33 17.93 96.69 17.28 100.09 16.63 101.45 15.32 102.13 14.02 101.45 13.37 99.41 13.37 97.37 14.02 95.33 15.32 94.65" stroke="#000" stroke-width="2.5"/>
<path d="M6.11 90.15 6.11 83.22M3.1 79.37 2.73 78.6 1.6 77.45 9.5 77.45" stroke="#000" stroke-width="2.5"/>
<path d="M6.19 72.35 7.5 70.26 9.45 68.18 12.06 66.09 15.32 65.05 17.93 65.05 21.2 66.09 23.8 68.18 25.76 70.26 27.07 72.35" stroke="#000" stroke-width="2.5"/>
<path d="M142.25 180.39 142.92 177 144.27 174.98 146.3 174.3 147.65 174.3 149.67 174.98 151.02 177 151.7 180.39 151.7 182.41 151.02 185.8 149.67 187.82 147.65 188.5 146.3 188.5 144.27 187.82 142.92 185.8 142.25 182.41 142.25 180.39M156.42 187.82 157.1 188.5 157.77 187.82 157.1 187.15 156.42 187.82M162.49 185.8 163.17 187.15 163.84 187.82 165.87 188.5 167.89 188.5 169.92 187.82 171.27 186.47 171.94 184.44 171.94 183.09 171.27 181.06 169.92 179.71 167.89 179.03 165.87 179.03 163.84 179.71 163.17 180.39 163.84 174.3 170.59 174.3M198.26 176.33 187.46 182.41 198.26 188.5M214.45 174.3 214.45 188.5M214.45 183.77 223.9 174.3M217.83 180.39 223.9 188.5M227.28 179.03 231.32 188.5 235.37 179.03M239.42 179.03 239.42 188.5M238.75 174.3 239.42 174.98 240.1 174.3 239.42 173.62 238.75 174.3M244.82 179.03 244.82 188.5M244.82 183.09 245.49 181.06 246.84 179.71 248.19 179.03 250.22 179.03M275.19 176.33 264.39 182.41 275.19 188.5M291.38 177.68 291.38 177 292.06 175.65 292.73 174.98 294.08 174.3 296.78 174.3 298.13 174.98 298.8 175.65 299.48 177 299.48 178.36 298.8 179.71 297.45 181.74 290.71 188.5 300.15 188.5M304.2 180.39 304.88 177 306.23 174.98 308.25 174.3 309.6 174.3 311.63 174.98 312.98 177 313.65 180.39 313.65 182.41 312.98 185.8 311.63 187.82 309.6 188.5 308.25 188.5 306.23 187.82 304.88 185.8 304.2 182.41 304.2 180.39" stroke="#000" stroke-width="1.5"/>
<path d="M589.44 294.72 588.76 293.37 587.4 292.02 586.04 291.35 583.31 291.35 581.95 292.02 580.59 293.37 579.91 294.72 579.23 296.74 579.23 300.11 579.91 302.13 580.59 303.48 581.95 304.83 583.31 305.5 586.04 305.5 587.4 304.83 588.76 303.48 589.44 302.13M593.53 296.74 593.53 300.11 594.21 302.13 594.89 303.48 596.25 304.83 597.62 305.5 600.34 305.5 601.7 304.83 603.06 303.48 603.75 302.13 604.43 300.11 604.43 296.74 603.75 294.72 603.06 293.37 601.7 292.02 600.34 291.35 597.62 291.35 596.25 292.02 594.89 293.37 594.21 294.72 593.53 296.74M620.09 291.35 620.09 305.5M633.03 296.07 633.03 305.5M633.03 298.09 631.67 296.74 630.31 296.07 628.27 296.07 626.9 296.74 625.54 298.09 624.86 300.11 624.86 301.46 625.54 303.48 626.9 304.83 628.27 305.5 630.31 305.5 631.67 304.83 633.03 303.48M645.98 291.35 645.98 305.5M645.98 298.09 644.61 296.74 643.25 296.07 641.21 296.07 639.85 296.74 638.48 298.09 637.8 300.11 637.8 301.46 638.48 303.48 639.85 304.83 641.21 305.5 643.25 305.5 644.61 304.83 645.98 303.48M658.92 291.35 658.92 305.5M658.92 298.09 657.55 296.74 656.19 296.07 654.15 296.07 652.79 296.74 651.42 298.09 650.74 300.11 650.74 301.46 651.42 303.48 652.79 304.83 654.15 305.5 656.19 305.5 657.55 304.83 658.92 303.48M663.68 300.11 671.86 300.11 671.86 298.76 671.18 297.41 670.5 296.74 669.13 296.07 667.09 296.07 665.73 296.74 664.37 298.09 663.68 300.11 663.68 301.46 664.37 303.48 665.73 304.83 667.09 305.5 669.13 305.5 670.5 304.83 671.86 303.48M676.63 296.07 676.63 305.5M676.63 300.11 677.31 298.09 678.67 296.74 680.03 296.07 682.08 296.07" stroke="#000" stroke-width="1.45"/>
<path d="M561.43 284.34 562.39 283.91 563.84 282.65 563.84 291.5M570.11 284.76 570.11 284.34 570.59 283.49 571.07 283.07 572.03 282.65 573.96 282.65 574.93 283.07 575.41 283.49 575.89 284.34 575.89 285.18 575.41 286.02 574.45 287.29 569.62 291.5 576.38 291.5" stroke="#000" stroke-width="1.45"/>
<path d="M638.8 70.72 638.12 69.37 636.77 68.02 635.41 67.35 632.7 67.35 631.34 68.02 629.98 69.37 629.3 70.72 628.62 72.74 628.62 76.11 629.3 78.13 629.98 79.48 631.34 80.83 632.7 81.5 635.41 81.5 636.77 80.83 638.12 79.48 638.8 78.13M642.87 72.74 642.87 76.11 643.55 78.13 644.23 79.48 645.59 80.83 646.94 81.5 649.66 81.5 651.01 80.83 652.37 79.48 653.05 78.13 653.73 76.11 653.73 72.74 653.05 70.72 652.37 69.37 651.01 68.02 649.66 67.35 646.94 67.35 645.59 68.02 644.23 69.37 643.55 70.72 642.87 72.74M669.33 67.35 669.33 81.5M682.22 72.07 682.22 81.5M682.22 74.09 680.87 72.74 679.51 72.07 677.48 72.07 676.12 72.74 674.76 74.09 674.08 76.11 674.08 77.46 674.76 79.48 676.12 80.83 677.48 81.5 679.51 81.5 680.87 80.83 682.22 79.48M695.12 67.35 695.12 81.5M695.12 74.09 693.76 72.74 692.4 72.07 690.37 72.07 689.01 72.74 687.65 74.09 686.97 76.11 686.97 77.46 687.65 79.48 689.01 80.83 690.37 81.5 692.4 81.5 693.76 80.83 695.12 79.48M708.01 67.35 708.01 81.5M708.01 74.09 706.65 72.74 705.29 72.07 703.26 72.07 701.9 72.74 700.54 74.09 699.87 76.11 699.87 77.46 700.54 79.48 701.9 80.83 703.26 81.5 705.29 81.5 706.65 80.83 708.01 79.48M712.76 76.11 720.9 76.11 720.9 74.76 720.22 73.41 719.54 72.74 718.18 72.07 716.15 72.07 714.79 72.74 713.43 74.09 712.76 76.11 712.76 77.46 713.43 79.48 714.79 80.83 716.15 81.5 718.18 81.5 719.54 80.83 720.9 79.48M725.65 72.07 725.65 81.5M725.65 76.11 726.33 74.09 727.68 72.74 729.04 72.07 731.07 72.07" stroke="#000" stroke-width="1.45"/>
<path d="M611.23 61.34 612.14 60.91 613.51 59.65 613.51 68.5M618.98 66.81 619.44 67.66 619.9 68.08 621.27 68.5 622.64 68.5 624.01 68.08 624.92 67.24 625.38 65.97 625.38 65.13 624.92 63.86 624.46 63.44 623.55 63.02 622.18 63.02 624.92 59.65 619.9 59.65" stroke="#000" stroke-width="1.45"/>
<path d="M154.38 72.5 159.16 59.75 163.94 72.5M156.17 68.25 162.15 68.25M166.93 64.61 167.53 65.21 168.13 64.61 167.53 64 166.93 64.61M166.93 71.89 167.53 72.5 168.13 71.89 167.53 71.29 166.93 71.89" stroke="#f00" stroke-width="1.15"/>
<path d="M190.43 65.21 191.02 62.18 192.22 60.36 194.01 59.75 195.21 59.75 197 60.36 198.2 62.18 198.8 65.21 198.8 67.04 198.2 70.07 197 71.89 195.21 72.5 194.01 72.5 192.22 71.89 191.02 70.07 190.43 67.04 190.43 65.21M202.98 71.89 203.58 72.5 204.18 71.89 203.58 71.29 202.98 71.89M208.96 62.79 208.96 62.18 209.56 60.96 210.16 60.36 211.36 59.75 213.75 59.75 214.94 60.36 215.54 60.96 216.14 62.18 216.14 63.39 215.54 64.61 214.35 66.43 208.37 72.5 216.74 72.5M220.33 64 226.9 72.5M220.33 72.5 226.9 64M232.29 62.18 233.48 61.57 235.28 59.75 235.28 72.5M242.45 65.21 243.05 62.18 244.25 60.36 246.04 59.75 247.24 59.75 249.03 60.36 250.23 62.18 250.82 65.21 250.82 67.04 250.23 70.07 249.03 71.89 247.24 72.5 246.04 72.5 244.25 71.89 243.05 70.07 242.45 67.04 242.45 65.21" stroke="#f00" stroke-width="1.15"/>
<path d="M254.2 60.28 254.63 61.09 255.92 61.5 256.78 61.5 258.07 61.09 258.93 59.87 259.36 57.84 259.36 55.8 258.93 54.17 258.07 53.36 256.78 52.95 256.35 52.95 255.06 53.36 254.2 54.17 253.77 55.39 253.77 55.8 254.2 57.02 255.06 57.84 256.35 58.24 256.78 58.24 258.07 57.84 258.93 57.02 259.36 55.8" stroke="#f00" stroke-width="1.15"/>
<path d="M320.88 62.18 322.07 61.57 323.86 59.75 323.86 72.5M331.04 65.21 331.64 62.18 332.83 60.36 334.63 59.75 335.82 59.75 337.62 60.36 338.81 62.18 339.41 65.21 339.41 67.04 338.81 70.07 337.62 71.89 335.82 72.5 334.63 72.5 332.83 71.89 331.64 70.07 331.04 67.04 331.04 65.21" stroke="#f00" stroke-width="1.15"/>
<path d="M340.9 61.09 341.22 61.8 341.54 62.15 342.5 62.5 343.46 62.5 344.42 62.15 345.06 61.44 345.38 60.39 345.38 59.68 345.06 58.62 344.74 58.27 344.1 57.92 343.14 57.92 345.06 55.1 341.54 55.1M347.62 62.15 347.94 62.5 348.26 62.15 347.94 61.8 347.62 62.15M350.82 61.44 351.14 62.15 352.1 62.5 352.74 62.5 353.7 62.15 354.34 61.09 354.66 59.33 354.66 57.57 354.34 56.16 353.7 55.45 352.74 55.1 352.42 55.1 351.46 55.45 350.82 56.16 350.5 57.21 350.5 57.57 350.82 58.62 351.46 59.33 352.42 59.68 352.74 59.68 353.7 59.33 354.34 58.62 354.66 57.57" stroke="#f00" stroke-width="1.2"/>
<path d="M429.27 62.18 430.47 61.57 432.26 59.75 432.26 72.5M439.44 65.21 440.04 62.18 441.23 60.36 443.03 59.75 444.22 59.75 446.02 60.36 447.21 62.18 447.81 65.21 447.81 67.04 447.21 70.07 446.02 71.89 444.22 72.5 443.03 72.5 441.23 71.89 440.04 70.07 439.44 67.04 439.44 65.21" stroke="#f00" stroke-width="1.15"/>
<path d="M455.32 56.86 455.32 56.51 455.64 55.8 455.96 55.45 456.6 55.1 457.88 55.1 458.52 55.45 458.84 55.8 459.16 56.51 459.16 57.21 458.84 57.92 458.2 58.98 455 62.5 459.48 62.5M461.72 62.15 462.04 62.5 462.36 62.15 462.04 61.8 461.72 62.15M464.92 60.03 464.92 58.27 465.24 56.51 465.88 55.45 466.84 55.1 467.48 55.1 468.44 55.45 468.76 56.16M464.92 60.03 465.24 61.44 465.88 62.15 466.84 62.5 467.16 62.5 468.12 62.15 468.76 61.44 469.08 60.39 469.08 60.03 468.76 58.98 468.12 58.27 467.16 57.92 466.84 57.92 465.88 58.27 465.24 58.98 464.92 60.03" stroke="#f00" stroke-width="1.2"/>
<path d="M154.38 98.82 159.76 98.82 161.55 98.21 162.15 97.61 162.75 96.39 162.75 95.18 162.15 93.96 161.55 93.36 159.76 92.75 154.38 92.75 154.38 105.5 159.76 105.5 161.55 104.89 162.15 104.29 162.75 103.07 162.75 101.25 162.15 100.04 161.55 99.43 159.76 98.82M166.93 97.61 167.53 98.21 168.13 97.61 167.53 97 166.93 97.61M166.93 104.89 167.53 105.5 168.13 104.89 167.53 104.29 166.93 104.89" stroke="#00f" stroke-width="1.15"/>
<path d="M190.43 98.21 191.02 95.18 192.22 93.36 194.01 92.75 195.21 92.75 197 93.36 198.2 95.18 198.8 98.21 198.8 100.04 198.2 103.07 197 104.89 195.21 105.5 194.01 105.5 192.22 104.89 191.02 103.07 190.43 100.04 190.43 98.21M202.98 104.89 203.58 105.5 204.18 104.89 203.58 104.29 202.98 104.89M208.37 103.07 208.96 104.29 209.56 104.89 211.36 105.5 213.15 105.5 214.94 104.89 216.14 103.68 216.74 101.86 216.74 100.64 216.14 98.82 215.54 98.21 214.35 97.61 212.55 97.61 216.14 92.75 209.56 92.75M220.33 97 226.9 105.5M220.33 105.5 226.9 97M232.29 95.18 233.48 94.57 235.28 92.75 235.28 105.5M242.45 98.21 243.05 95.18 244.25 93.36 246.04 92.75 247.24 92.75 249.03 93.36 250.23 95.18 250.82 98.21 250.82 100.04 250.23 103.07 249.03 104.89 247.24 105.5 246.04 105.5 244.25 104.89 243.05 103.07 242.45 100.04 242.45 98.21" stroke="#00f" stroke-width="1.15"/>
<path d="M254.2 94.28 254.63 95.09 255.92 95.5 256.78 95.5 258.07 95.09 258.93 93.87 259.36 91.84 259.36 89.8 258.93 88.17 258.07 87.36 256.78 86.95 256.35 86.95 255.06 87.36 254.2 88.17 253.77 89.39 253.77 89.8 254.2 91.02 255.06 91.84 256.35 92.24 256.78 92.24 258.07 91.84 258.93 91.02 259.36 89.8" stroke="#00f" stroke-width="1.15"/>
<path d="M321.88 95.18 323.07 94.57 324.86 92.75 324.86 105.5M332.04 98.21 332.64 95.18 333.83 93.36 335.63 92.75 336.82 92.75 338.62 93.36 339.81 95.18 340.41 98.21 340.41 100.04 339.81 103.07 338.62 104.89 336.82 105.5 335.63 105.5 333.83 104.89 332.64 103.07 332.04 100.04 332.04 98.21" stroke="#00f" stroke-width="1.15"/>
<path d="M346.8 95.5 346.8 88.1 343.6 93.03 348.4 93.03M350.32 95.15 350.64 95.5 350.96 95.15 350.64 94.8 350.32 95.15M356.4 95.5 356.4 88.1 353.2 93.03 358 93.03" stroke="#00f" stroke-width="1.2"/>
<path d="M429.88 95.18 431.07 94.57 432.86 92.75 432.86 105.5M440.04 98.21 440.64 95.18 441.83 93.36 443.63 92.75 444.82 92.75 446.62 93.36 447.81 95.18 448.41 98.21 448.41 100.04 447.81 103.07 446.62 104.89 444.82 105.5 443.63 105.5 441.83 104.89 440.64 103.07 440.04 100.04 440.04 98.21" stroke="#00f" stroke-width="1.15"/>
<path d="M452.9 89.51 453.54 89.16 454.5 88.1 454.5 95.5M458.66 95.15 458.98 95.5 459.3 95.15 458.98 94.8 458.66 95.15M461.54 94.09 461.86 94.8 462.18 95.15 463.14 95.5 464.1 95.5 465.06 95.15 465.7 94.44 466.02 93.39 466.02 92.68 465.7 91.62 465.06 90.92 464.1 90.57 463.14 90.57 462.18 90.92 461.86 91.27 462.18 88.1 465.38 88.1" stroke="#00f" stroke-width="1.2"/>
<path d="M163.34 129.79 162.75 128.57 161.55 127.36 160.35 126.75 157.96 126.75 156.77 127.36 155.57 128.57 154.97 129.79 154.38 131.61 154.38 134.64 154.97 136.46 155.57 137.68 156.77 138.89 157.96 139.5 160.35 139.5 161.55 138.89 162.75 137.68 163.34 136.46M167.53 131.61 168.13 132.21 168.73 131.61 168.13 131 167.53 131.61M167.53 138.89 168.13 139.5 168.73 138.89 168.13 138.29 167.53 138.89" stroke="#f0f" stroke-width="1.15"/>
<path d="M190.43 126.75 198.8 126.75 192.82 139.5M202.98 138.89 203.58 139.5 204.18 138.89 203.58 138.29 202.98 138.89M208.96 129.79 208.96 129.18 209.56 127.96 210.16 127.36 211.36 126.75 213.75 126.75 214.94 127.36 215.54 127.96 216.14 129.18 216.14 130.39 215.54 131.61 214.35 133.43 208.37 139.5 216.74 139.5M220.33 131 226.9 139.5M220.33 139.5 226.9 131M232.29 129.18 233.48 128.57 235.28 126.75 235.28 139.5M242.45 132.21 243.05 129.18 244.25 127.36 246.04 126.75 247.24 126.75 249.03 127.36 250.23 129.18 250.82 132.21 250.82 134.04 250.23 137.07 249.03 138.89 247.24 139.5 246.04 139.5 244.25 138.89 243.05 137.07 242.45 134.04 242.45 132.21" stroke="#f0f" stroke-width="1.15"/>
<path d="M254.2 127.28 254.63 128.09 255.92 128.5 256.78 128.5 258.07 128.09 258.93 126.87 259.36 124.84 259.36 122.8 258.93 121.17 258.07 120.36 256.78 119.95 256.35 119.95 255.06 120.36 254.2 121.17 253.77 122.39 253.77 122.8 254.2 124.02 255.06 124.84 256.35 125.24 256.78 125.24 258.07 124.84 258.93 124.02 259.36 122.8" stroke="#f0f" stroke-width="1.15"/>
<path d="M321.88 129.18 323.07 128.57 324.86 126.75 324.86 139.5M332.04 132.21 332.64 129.18 333.83 127.36 335.63 126.75 336.82 126.75 338.62 127.36 339.81 129.18 340.41 132.21 340.41 134.04 339.81 137.07 338.62 138.89 336.82 139.5 335.63 139.5 333.83 138.89 332.64 137.07 332.04 134.04 332.04 132.21" stroke="#f0f" stroke-width="1.15"/>
<path d="M345.68 126.87 346.11 127.69 346.54 128.09 347.83 128.5 349.12 128.5 350.41 128.09 351.26 127.28 351.69 126.06 351.69 125.24 351.26 124.02 350.83 123.61 349.98 123.21 348.69 123.21 351.26 119.95 346.54 119.95" stroke="#f0f" stroke-width="1.15"/>
<path d="M429.88 129.18 431.07 128.57 432.86 126.75 432.86 139.5M440.04 132.21 440.64 129.18 441.83 127.36 443.63 126.75 444.82 126.75 446.62 127.36 447.81 129.18 448.41 132.21 448.41 134.04 447.81 137.07 446.62 138.89 444.82 139.5 443.63 139.5 441.83 138.89 440.64 137.07 440.04 134.04 440.04 132.21" stroke="#f0f" stroke-width="1.15"/>
<path d="M451.2 122.51 451.84 122.16 452.8 121.1 452.8 128.5M456.96 128.15 457.28 128.5 457.6 128.15 457.28 127.8 456.96 128.15M459.84 127.09 460.16 127.8 460.48 128.15 461.44 128.5 462.4 128.5 463.36 128.15 464 127.44 464.32 126.39 464.32 125.68 464 124.62 463.36 123.92 462.4 123.57 461.44 123.57 460.48 123.92 460.16 124.27 460.48 121.1 463.68 121.1" stroke="#f0f" stroke-width="1.2"/>
<path d="M192.88 39.5 192.88 26.85 197.85 39.5 202.82 26.85 202.82 39.5" stroke="#000" stroke-width="1.15"/>
<path d="M206.38 36.35 206.38 44.5M206.38 40.23 212.47 40.23M212.47 36.35 212.47 44.5M215.96 38.29 215.96 37.9 216.4 37.13 216.83 36.74 217.7 36.35 219.45 36.35 220.32 36.74 220.75 37.13 221.19 37.9 221.19 38.68 220.75 39.45 219.88 40.62 215.53 44.5 221.62 44.5" stroke="#000" stroke-width="1.15"/>
<path d="M228.6 24.44 227.37 25.65 226.13 27.45 224.89 29.86 224.27 32.87 224.27 35.28 224.89 38.3 226.13 40.7 227.37 42.51 228.6 43.72M232.93 39.5 232.93 26.85 237.88 39.5 242.82 26.85 242.82 39.5" stroke="#000" stroke-width="1.15"/>
<circle cx="250.7" cy="39.9" r="4.5" stroke="#000" stroke-width="1.15"/><circle cx="250.7" cy="39.9" r="1.0" fill="#000" stroke="none"/>
<path d="M256.97 24.44 258.45 25.65 259.92 27.45 261.39 29.86 262.12 32.87 262.12 35.28 261.39 38.3 259.92 40.7 258.45 42.51 256.97 43.72" stroke="#000" stroke-width="1.15"/>
<path d="M294.68 31.07 294.68 39.5M294.68 33.48 296.47 31.67 297.67 31.07 299.47 31.07 300.66 31.67 301.26 33.48 301.26 39.5M310.25 24.44 309.05 25.65 307.85 27.45 306.65 29.86 306.05 32.87 306.05 35.28 306.65 38.3 307.85 40.7 309.05 42.51 310.25 43.72M314.44 26.85 314.44 39.5M314.44 32.87 322.82 32.87M322.82 26.85 322.82 39.5" stroke="#000" stroke-width="1.15"/>
<path d="M326.91 38.29 326.91 37.9 327.34 37.13 327.77 36.74 328.64 36.35 330.36 36.35 331.23 36.74 331.66 37.13 332.09 37.9 332.09 38.68 331.66 39.45 330.8 40.62 326.47 44.5 332.53 44.5" stroke="#000" stroke-width="1.15"/>
<path d="M335.18 24.44 336.36 25.65 337.54 27.45 338.72 29.86 339.31 32.87 339.31 35.28 338.72 38.3 337.54 40.7 336.36 42.51 335.18 43.72M348.17 24.44 346.99 25.65 345.81 27.45 344.62 29.86 344.03 32.87 344.03 35.28 344.62 38.3 345.81 40.7 346.99 42.51 348.17 43.72M358.8 32.87 357.62 31.67 356.44 31.07 354.66 31.07 353.48 31.67 352.3 32.87 351.71 34.68 351.71 35.89 352.3 37.69 353.48 38.9 354.66 39.5 356.44 39.5 357.62 38.9 358.8 37.69M362.93 31.07 362.93 39.5M362.93 33.48 364.7 31.67 365.89 31.07 367.66 31.07 368.84 31.67 369.43 33.48 369.43 39.5M369.43 33.48 371.2 31.67 372.38 31.07 374.15 31.07 375.33 31.67 375.92 33.48 375.92 39.5" stroke="#000" stroke-width="1.15"/>
<path d="M380.38 26.01 388.06 26.01M391.05 27.95 391.48 28.72 391.9 29.11 393.18 29.5 394.46 29.5 395.74 29.11 396.6 28.34 397.03 27.17 397.03 26.4 396.6 25.23 396.17 24.84 395.32 24.45 394.04 24.45 396.6 21.35 391.9 21.35" stroke="#000" stroke-width="1.15"/>
<path d="M399.88 24.44 401 25.65 402.13 27.45 403.26 29.86 403.82 32.87 403.82 35.28 403.26 38.3 402.13 40.7 401 42.51 399.88 43.72" stroke="#000" stroke-width="1.15"/>
<path d="M426.38 26.85 434.75 26.85M430.56 26.85 430.56 39.5" stroke="#000" stroke-width="1.15"/>
<path d="M437.15 36.35 437.15 44.5M437.15 42.95 441.15 39.07M438.75 41.4 441.55 44.5M443.95 39.07 443.95 44.5M443.55 36.35 443.95 36.74 444.35 36.35 443.95 35.96 443.55 36.35M447.15 39.07 447.15 44.5M447.15 40.62 448.35 39.45 449.15 39.07 450.35 39.07 451.15 39.45 451.55 40.62 451.55 44.5" stroke="#000" stroke-width="1.25"/>
<path d="M458.53 24.44 457.34 25.65 456.14 27.45 454.94 29.86 454.35 32.87 454.35 35.28 454.94 38.3 456.14 40.7 457.34 42.51 458.53 43.72M462.72 26.85 462.72 39.5M462.72 35.28 471.09 26.85M465.71 32.27 471.09 39.5M474.68 24.44 475.87 25.65 477.07 27.45 478.27 29.86 478.86 32.87 478.86 35.28 478.27 38.3 477.07 40.7 475.87 42.51 474.68 43.72" stroke="#000" stroke-width="1.15"/>
<path d="M554.31 182.44 554.98 179.09 556.32 177.07 558.33 176.4 559.67 176.4 561.68 177.07 563.02 179.09 563.69 182.44 563.69 184.46 563.02 187.81 561.68 189.83 559.67 190.5 558.33 190.5 556.32 189.83 554.98 187.81 554.31 184.46 554.31 182.44" stroke="#000" stroke-width="1.5"/>
<path d="M602.26 179.76 602.26 179.09 602.93 177.74 603.6 177.07 604.94 176.4 607.62 176.4 608.96 177.07 609.63 177.74 610.3 179.09 610.3 180.43 609.63 181.77 608.29 183.79 601.59 190.5 610.97 190.5" stroke="#000" stroke-width="1.5"/>
<path d="M655.57 190.5 655.57 176.4 648.87 185.8 658.92 185.8" stroke="#000" stroke-width="1.5"/>
<path d="M696.82 185.8 696.82 182.44 697.49 179.09 698.83 177.07 700.84 176.4 702.18 176.4 704.19 177.07 704.86 178.41M696.82 185.8 697.49 188.49 698.83 189.83 700.84 190.5 701.51 190.5 703.52 189.83 704.86 188.49 705.53 186.47 705.53 185.8 704.86 183.79 703.52 182.44 701.51 181.77 700.84 181.77 698.83 182.44 697.49 183.79 696.82 185.8" stroke="#000" stroke-width="1.5"/>
<path d="M743.43 185.8 743.43 187.81 744.1 189.16 744.77 189.83 746.78 190.5 749.46 190.5 751.47 189.83 752.14 189.16 752.81 187.81 752.81 185.8 752.14 184.46 750.8 183.11 748.79 182.44 746.11 181.77 744.77 181.1 744.1 179.76 744.1 178.41 744.77 177.07 746.78 176.4 749.46 176.4 751.47 177.07 752.14 178.41 752.14 179.76 751.47 181.1 750.13 181.77 747.45 182.44 745.44 183.11 744.1 184.46 743.43 185.8" stroke="#000" stroke-width="1.5"/>
<path d="M786.02 179.09 787.36 178.41 789.37 176.4 789.37 190.5M797.41 182.44 798.08 179.09 799.42 177.07 801.43 176.4 802.77 176.4 804.78 177.07 806.12 179.09 806.79 182.44 806.79 184.46 806.12 187.81 804.78 189.83 802.77 190.5 801.43 190.5 799.42 189.83 798.08 187.81 797.41 184.46 797.41 182.44" stroke="#000" stroke-width="1.5"/>
<path d="M535.81 159.44 536.48 156.09 537.82 154.07 539.83 153.4 541.17 153.4 543.18 154.07 544.52 156.09 545.19 159.44 545.19 161.46 544.52 164.81 543.18 166.83 541.17 167.5 539.83 167.5 537.82 166.83 536.48 164.81 535.81 161.46 535.81 159.44" stroke="#000" stroke-width="1.5"/>
<path d="M523.08 126.76 523.08 126.09 523.75 124.74 524.42 124.07 525.76 123.4 528.44 123.4 529.78 124.07 530.45 124.74 531.12 126.09 531.12 127.43 530.45 128.77 529.11 130.79 522.41 137.5 531.79 137.5M535.81 129.44 536.48 126.09 537.82 124.07 539.83 123.4 541.17 123.4 543.18 124.07 544.52 126.09 545.19 129.44 545.19 131.46 544.52 134.81 543.18 136.83 541.17 137.5 539.83 137.5 537.82 136.83 536.48 134.81 535.81 131.46 535.81 129.44" stroke="#000" stroke-width="1.5"/>
<path d="M529.11 108.5 529.11 94.4 522.41 103.8 532.46 103.8M535.81 100.44 536.48 97.09 537.82 95.07 539.83 94.4 541.17 94.4 543.18 95.07 544.52 97.09 545.19 100.44 545.19 102.46 544.52 105.81 543.18 107.83 541.17 108.5 539.83 108.5 537.82 107.83 536.48 105.81 535.81 102.46 535.81 100.44" stroke="#000" stroke-width="1.5"/>
<path d="M523.08 74.8 523.08 71.44 523.75 68.09 525.09 66.07 527.1 65.4 528.44 65.4 530.45 66.07 531.12 67.41M523.08 74.8 523.75 77.49 525.09 78.83 527.1 79.5 527.77 79.5 529.78 78.83 531.12 77.49 531.79 75.47 531.79 74.8 531.12 72.79 529.78 71.44 527.77 70.77 527.1 70.77 525.09 71.44 523.75 72.79 523.08 74.8M535.81 71.44 536.48 68.09 537.82 66.07 539.83 65.4 541.17 65.4 543.18 66.07 544.52 68.09 545.19 71.44 545.19 73.46 544.52 76.81 543.18 78.83 541.17 79.5 539.83 79.5 537.82 78.83 536.48 76.81 535.81 73.46 535.81 71.44" stroke="#000" stroke-width="1.5"/>
<path d="M522.41 44.8 522.41 46.81 523.08 48.16 523.75 48.83 525.76 49.5 528.44 49.5 530.45 48.83 531.12 48.16 531.79 46.81 531.79 44.8 531.12 43.46 529.78 42.11 527.77 41.44 525.09 40.77 523.75 40.1 523.08 38.76 523.08 37.41 523.75 36.07 525.76 35.4 528.44 35.4 530.45 36.07 531.12 37.41 531.12 38.76 530.45 40.1 529.11 40.77 526.43 41.44 524.42 42.11 523.08 43.46 522.41 44.8M535.81 41.44 536.48 38.09 537.82 36.07 539.83 35.4 541.17 35.4 543.18 36.07 544.52 38.09 545.19 41.44 545.19 43.46 544.52 46.81 543.18 48.83 541.17 49.5 539.83 49.5 537.82 48.83 536.48 46.81 535.81 43.46 535.81 41.44" stroke="#000" stroke-width="1.5"/>
<path d="M511.02 9.09 512.36 8.41 514.37 6.4 514.37 20.5M522.41 12.44 523.08 9.09 524.42 7.07 526.43 6.4 527.77 6.4 529.78 7.07 531.12 9.09 531.79 12.44 531.79 14.46 531.12 17.81 529.78 19.83 527.77 20.5 526.43 20.5 524.42 19.83 523.08 17.81 522.41 14.46 522.41 12.44M535.81 12.44 536.48 9.09 537.82 7.07 539.83 6.4 541.17 6.4 543.18 7.07 544.52 9.09 545.19 12.44 545.19 14.46 544.52 17.81 543.18 19.83 541.17 20.5 539.83 20.5 537.82 19.83 536.48 17.81 535.81 14.46 535.81 12.44" stroke="#000" stroke-width="1.5"/>
<path d="M660.95 200.37 660.95 201.26 661.42 202.6 661.89 203.05 662.83 203.5 663.77 203.5 664.71 203.05 665.18 202.6 665.65 201.26 665.65 194.1" stroke="#000" stroke-width="1.5"/>
<path d="M669.3 201.1 669.3 204.96 669.67 206.11 670.41 206.5 671.52 206.5 672.26 206.11 673.37 204.96M673.37 201.1 673.37 206.5M676.33 201.1 676.33 209.2M676.33 202.26 677.07 201.49 677.81 201.1 678.92 201.1 679.66 201.49 680.4 202.26 680.77 203.41 680.77 204.19 680.4 205.34 679.66 206.11 678.92 206.5 677.81 206.5 677.07 206.11 676.33 205.34" stroke="#000" stroke-width="1.8"/>
<path d="M496.6 146.25 507.5 146.25M500.23 142.21 507.5 142.21M502.31 142.21 500.75 140.69 500.23 139.68 500.23 138.17 500.75 137.16 502.31 136.65 507.5 136.65M500.23 133.62 500.23 130.08M496.6 132.1 505.42 132.1 506.98 131.6 507.5 130.59 507.5 129.58M506.98 126.55 507.5 126.04 506.98 125.54 506.46 126.04 506.98 126.55M501.79 113.41 501.79 109.37M507.5 113.41 496.6 113.41 496.6 106.84M496.6 104.31 507.5 104.31M500.23 100.27 505.42 100.27 506.98 99.77 507.5 98.76 507.5 97.24 506.98 96.23 505.42 94.72M500.23 94.72 507.5 94.72M500.23 91.18 507.5 85.62M507.5 91.18 500.23 85.62M496.6 74 507.5 74 507.5 70.46 506.98 68.95 505.94 67.94 504.9 67.43 503.35 66.93 500.75 66.93 499.2 67.43 498.16 67.94 497.12 68.95 496.6 70.46 496.6 74M503.35 63.9 503.35 57.83 502.31 57.83 501.27 58.34 500.75 58.84 500.23 59.85 500.23 61.37 500.75 62.38 501.79 63.39 503.35 63.9 504.39 63.9 505.94 63.39 506.98 62.38 507.5 61.37 507.5 59.85 506.98 58.84 505.94 57.83M500.23 54.3 507.5 54.3M502.31 54.3 500.75 52.78 500.23 51.77 500.23 50.25 500.75 49.24 502.31 48.74 507.5 48.74M505.94 45.2 506.98 44.7 507.5 43.18 507.5 41.66 506.98 40.15 505.94 39.64 505.42 39.64 504.39 40.15 503.87 41.16 503.35 43.69 502.83 44.7 501.79 45.2 500.75 44.7 500.23 43.18 500.23 41.66 500.75 40.15 501.79 39.64M500.23 36.11 507.5 36.11M496.6 36.61 497.12 36.11 496.6 35.6 496.08 36.11 496.6 36.61M500.23 33.08 500.23 29.54M496.6 31.56 505.42 31.56 506.98 31.05 507.5 30.04 507.5 29.03M511.13 27.52 511.13 27.01 510.61 26 509.58 24.99 507.5 23.98 500.23 20.95M500.23 27.01 507.5 23.98" stroke="#000" stroke-width="1.5"/>
</g>
<g class="hid" font-size="18">
<text x="22" y="445" transform="rotate(-90 22 445)">Integrated Flux Density (Jy km s<tspan baseline-shift="super" font-size="12">-1</tspan>)</text>
<text x="303" y="551" >Rotational Quantum Number J<tspan baseline-shift="sub" font-size="12">up</tspan></text>
<text x="124" y="528" >0</text>
<text x="222.21" y="528" >2</text>
<text x="320.43" y="528" >4</text>
<text x="418.64" y="528" >6</text>
<text x="516.86" y="528" >8</text>
<text x="609.07" y="528" >10</text>
<text x="707.29" y="528" >12</text>
<text x="805.5" y="528" >14</text>
<text x="64" y="173" >2000</text>
<text x="104" y="504" >0</text>
<text x="141" y="189" >0.5 &lt; Kvir &lt; 20</text>
<text x="561" y="305" ><tspan baseline-shift="super" font-size="12">12</tspan>CO ladder</text>
<text x="611" y="82" ><tspan baseline-shift="super" font-size="12">13</tspan>CO ladder</text>
<text x="192" y="39" font-size="16">M<tspan baseline-shift="sub" font-size="11">H2</tspan>(M<tspan baseline-shift="sub" font-size="11">⊙</tspan>)</text>
<text x="294" y="39" font-size="16">n(H<tspan baseline-shift="sub" font-size="11">2</tspan>)(cm<tspan baseline-shift="super" font-size="11">-3</tspan>)</text>
<text x="426" y="39" font-size="16">T<tspan baseline-shift="sub" font-size="11">kin</tspan>(K)</text>
<text x="154" y="73.2" font-size="16">A:</text>
<text x="190" y="73.2" font-size="16">0.2x10<tspan baseline-shift="super" font-size="11">9</tspan></text>
<text x="321" y="73.2" font-size="16">10<tspan baseline-shift="super" font-size="10">3.9</tspan></text>
<text x="429" y="73.2" font-size="16">10<tspan baseline-shift="super" font-size="10">2.6</tspan></text>
<text x="154" y="106.3" font-size="16">B:</text>
<text x="190" y="106.3" font-size="16">0.3x10<tspan baseline-shift="super" font-size="11">9</tspan></text>
<text x="321" y="106.3" font-size="16">10<tspan baseline-shift="super" font-size="10">4.4</tspan></text>
<text x="429" y="106.3" font-size="16">10<tspan baseline-shift="super" font-size="10">1.5</tspan></text>
<text x="154" y="139.7" font-size="16">C:</text>
<text x="190" y="139.7" font-size="16">7.2x10<tspan baseline-shift="super" font-size="11">9</tspan></text>
<text x="321" y="139.7" font-size="16">10<tspan baseline-shift="super" font-size="10">3</tspan></text>
<text x="429" y="139.7" font-size="16">10<tspan baseline-shift="super" font-size="10">1.5</tspan></text>
<text x="554" y="191" >0</text>
<text x="601.28" y="191" >2</text>
<text x="648.56" y="191" >4</text>
<text x="695.84" y="191" >6</text>
<text x="743.12" y="191" >8</text>
<text x="785.4" y="191" >10</text>
<text x="537" y="167.9" >0</text>
<text x="527" y="138.42" >20</text>
<text x="527" y="108.94" >40</text>
<text x="527" y="79.46" >60</text>
<text x="527" y="49.98" >80</text>
<text x="517" y="20.5" >100</text>
<text x="660" y="204" font-size="13">J<tspan baseline-shift="sub" font-size="9">up</tspan></text>
<text x="508" y="147" font-size="14" transform="rotate(-90 508 147)">Int. Flux Density</text>
</g>
</svg>
</body></html>
